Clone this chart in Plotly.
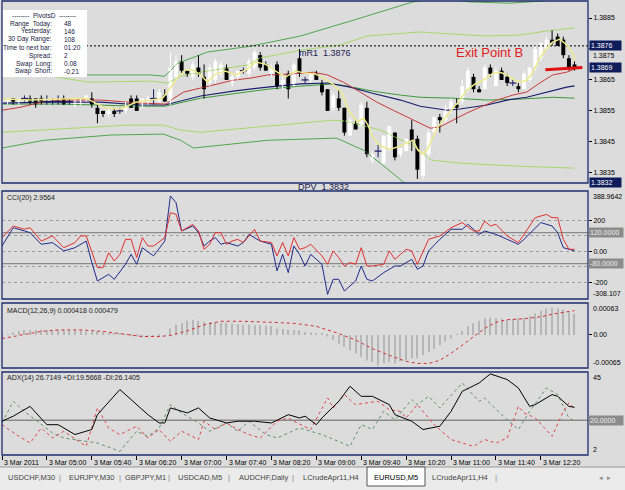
import plotly.graph_objects as go

# ======================= DATA =======================
bar_index = list(range(103))

opens = [
    1.3857, 1.3858, 1.3859, 1.3858, 1.3859, 1.3859, 1.3859, 1.3859, 1.3858, 1.3858,
    1.3858, 1.3859, 1.3858, 1.3857, 1.3857, 1.3858, 1.3859, 1.3856, 1.3855, 1.3854,
    1.3855, 1.3855, 1.3855, 1.3859, 1.3859, 1.3856, 1.3858, 1.3859, 1.3858, 1.3860,
    1.3858, 1.3866, 1.3871, 1.3868, 1.3866, 1.3869, 1.3866, 1.3864, 1.3865, 1.3867,
    1.3869, 1.3864, 1.3866, 1.3868, 1.3867, 1.3869, 1.3873, 1.3870, 1.3867, 1.3870,
    1.3863, 1.3867, 1.3863, 1.3872, 1.3865, 1.3865, 1.3867, 1.3864, 1.3862, 1.3856,
    1.3859, 1.3856, 1.3847, 1.3851, 1.3850, 1.3856, 1.3839, 1.3842, 1.3838, 1.3843,
    1.3848, 1.3841, 1.3842, 1.3849, 1.3846, 1.3834, 1.3841, 1.3848, 1.3853, 1.3852,
    1.3855, 1.3857, 1.3858, 1.3862, 1.3866, 1.3862, 1.3862, 1.3869, 1.3863, 1.3868,
    1.3866, 1.3864, 1.3863, 1.3862, 1.3865, 1.3869, 1.3872, 1.3875, 1.3878, 1.3879,
    1.3878, 1.3872, 1.3870,
]
highs = [
    1.3859, 1.3859, 1.3859, 1.3859, 1.3860, 1.3860, 1.3859, 1.3860, 1.3860, 1.3859,
    1.3860, 1.3860, 1.3859, 1.3859, 1.3859, 1.3860, 1.3861, 1.3857, 1.3855, 1.3856,
    1.3856, 1.3856, 1.3858, 1.3860, 1.3860, 1.3859, 1.3860, 1.3862, 1.3862, 1.3862,
    1.3874, 1.3873, 1.3873, 1.3868, 1.3871, 1.3873, 1.3870, 1.3870, 1.3872, 1.3871,
    1.3870, 1.3867, 1.3868, 1.3869, 1.3872, 1.3875, 1.3874, 1.3871, 1.3870, 1.3871,
    1.3867, 1.3868, 1.3871, 1.3875, 1.3866, 1.3867, 1.3868, 1.3865, 1.3862, 1.3861,
    1.3862, 1.3856, 1.3853, 1.3852, 1.3858, 1.3858, 1.3842, 1.3844, 1.3847, 1.3850,
    1.3848, 1.3843, 1.3846, 1.3852, 1.3847, 1.3842, 1.3849, 1.3853, 1.3854, 1.3857,
    1.3859, 1.3859, 1.3865, 1.3869, 1.3867, 1.3863, 1.3870, 1.3870, 1.3869, 1.3869,
    1.3867, 1.3865, 1.3864, 1.3868, 1.3869, 1.3876, 1.3877, 1.3879, 1.3881, 1.3880,
    1.3879, 1.3873, 1.3871,
]
lows = [
    1.3856, 1.3857, 1.3857, 1.3857, 1.3858, 1.3857, 1.3856, 1.3857, 1.3857, 1.3857,
    1.3857, 1.3857, 1.3857, 1.3856, 1.3857, 1.3858, 1.3856, 1.3851, 1.3853, 1.3853,
    1.3853, 1.3854, 1.3854, 1.3856, 1.3855, 1.3856, 1.3857, 1.3857, 1.3858, 1.3858,
    1.3857, 1.3865, 1.3867, 1.3866, 1.3865, 1.3866, 1.3859, 1.3863, 1.3864, 1.3866,
    1.3865, 1.3863, 1.3865, 1.3867, 1.3866, 1.3868, 1.3868, 1.3868, 1.3866, 1.3862,
    1.3862, 1.3859, 1.3863, 1.3866, 1.3864, 1.3864, 1.3865, 1.3860, 1.3855, 1.3855,
    1.3855, 1.3847, 1.3847, 1.3849, 1.3850, 1.3840, 1.3838, 1.3840, 1.3838, 1.3842,
    1.3839, 1.3840, 1.3842, 1.3842, 1.3833, 1.3833, 1.3840, 1.3848, 1.3848, 1.3851,
    1.3854, 1.3851, 1.3857, 1.3861, 1.3861, 1.3861, 1.3862, 1.3866, 1.3863, 1.3865,
    1.3863, 1.3863, 1.3861, 1.3862, 1.3864, 1.3868, 1.3871, 1.3875, 1.3876, 1.3876,
    1.3872, 1.3868, 1.3868,
]
closes = [
    1.3858, 1.3859, 1.3858, 1.3859, 1.3859, 1.3858, 1.3857, 1.3858, 1.3858, 1.3858,
    1.3858, 1.3857, 1.3858, 1.3858, 1.3859, 1.3860, 1.3857, 1.3854, 1.3854, 1.3855,
    1.3854, 1.3855, 1.3857, 1.3856, 1.3855, 1.3859, 1.3859, 1.3859, 1.3861, 1.3858,
    1.3869, 1.3871, 1.3868, 1.3867, 1.3870, 1.3867, 1.3862, 1.3869, 1.3871, 1.3870,
    1.3865, 1.3866, 1.3868, 1.3868, 1.3871, 1.3874, 1.3869, 1.3868, 1.3869, 1.3863,
    1.3865, 1.3862, 1.3870, 1.3867, 1.3865, 1.3867, 1.3865, 1.3861, 1.3855, 1.3860,
    1.3856, 1.3848, 1.3852, 1.3849, 1.3857, 1.3841, 1.3841, 1.3842, 1.3847, 1.3850,
    1.3840, 1.3843, 1.3846, 1.3845, 1.3836, 1.3841, 1.3848, 1.3853, 1.3852, 1.3856,
    1.3858, 1.3856, 1.3863, 1.3868, 1.3862, 1.3861, 1.3869, 1.3867, 1.3868, 1.3865,
    1.3864, 1.3864, 1.3862, 1.3867, 1.3869, 1.3875, 1.3877, 1.3878, 1.3877, 1.3876,
    1.3873, 1.3869, 1.3869,
]

# moving averages / bands on the price chart (bar index, price)
ma_fast_x = [0.2, 5.2, 10.5, 15, 16.7, 18.5, 21.2, 23.8, 26.5, 28.6, 30, 31.3, 32.7, 34.1, 35.4,
             36.6, 38, 39.8, 41.6, 43.4, 45.2, 46.9, 48.7, 50.5, 52.3, 54, 55.8, 57.1, 59, 60.6,
             61.7, 63.3, 64.4, 65.2, 66.1, 67.4, 69.2, 70.9, 72.4, 73.2, 74.1, 75, 75.9, 77.5, 79.3,
             81.1, 82.8, 84.3, 85.7, 87.5, 88.7, 90, 91.4, 92.3, 93.5, 94.6, 95.8, 97.1, 98.1, 99.4,
             100.6, 101.7, 102]
ma_fast_y = [1.38588, 1.38585, 1.38588, 1.38591, 1.38575, 1.38559, 1.38556, 1.38578, 1.38585, 1.38591,
             1.38624, 1.38659, 1.38682, 1.38682, 1.38666, 1.38643, 1.38669, 1.38679, 1.38666, 1.38682,
             1.38708, 1.38701, 1.38679, 1.38659, 1.38679, 1.38672, 1.38669, 1.38659, 1.38636, 1.38607,
             1.38552, 1.38514, 1.38527, 1.38504, 1.38465, 1.38436, 1.38426, 1.38436, 1.38449, 1.38455,
             1.38423, 1.38410, 1.38430, 1.38494, 1.38536, 1.38575, 1.38617, 1.38637, 1.38649, 1.38672,
             1.38675, 1.38666, 1.38649, 1.38643, 1.38649, 1.38675, 1.38721, 1.38753, 1.38772, 1.38782,
             1.38763, 1.38737, 1.38712]
ma_red_x = [0, 3.4, 7, 10.5, 17.6, 24.7, 29.2, 30.6, 32.4, 35.4, 37.7, 41.2, 44.3, 47.3, 51.4,
            55.5, 58, 60.8, 63.8, 66.8, 69.7, 72.2, 74.5, 76.3, 78, 80.4, 82.8, 85.2, 88.2, 91,
            93.5, 95.8, 98.1, 100.6, 102]
ma_red_y = [1.38552, 1.38562, 1.38578, 1.38585, 1.38585, 1.38575, 1.38572, 1.38591, 1.38611, 1.38624,
            1.38633, 1.38649, 1.38656, 1.38666, 1.38669, 1.38675, 1.38666, 1.38643, 1.38611, 1.38578,
            1.38552, 1.38530, 1.38510, 1.38494, 1.38498, 1.38520, 1.38543, 1.38562, 1.38585, 1.38601,
            1.38611, 1.38640, 1.38666, 1.38675, 1.38685]
ma_blue_x = [0, 8.7, 17.6, 24.7, 29, 35.4, 41.2, 47.3, 53.2, 58, 62, 66, 71, 74.5, 79.3, 81.6,
             86.4, 90, 93.5, 97, 100.6, 102]
ma_blue_y = [1.38575, 1.38578, 1.38578, 1.38569, 1.38569, 1.38598, 1.38614, 1.38627, 1.38637, 1.38640,
             1.38627, 1.38607, 1.38585, 1.38565, 1.38552, 1.38556, 1.38569, 1.38585, 1.38594, 1.38611,
             1.38627, 1.38631]
ma_green_x = [0, 10.5, 24.7, 29, 35.4, 41.2, 47.3, 53.2, 59, 61.5, 66, 71, 74.5, 80.4, 86.4, 92.3, 98.1, 102]
ma_green_y = [1.38572, 1.38572, 1.38565, 1.38565, 1.38591, 1.38604, 1.38620, 1.38630, 1.38637, 1.38630,
              1.38614, 1.38601, 1.38594, 1.38591, 1.38585, 1.38588, 1.38594, 1.38591]
band_up_outer_x = [0, 14, 26.5, 29, 31.3, 36.6, 44.3, 53.2, 62.6, 73.2, 78, 83.4, 90.5, 96.4, 102]
band_up_outer_y = [1.38714, 1.38666, 1.38666, 1.38662, 1.38704, 1.38740, 1.38759, 1.38792, 1.38843,
                   1.38902, 1.38914, 1.38902, 1.38898, 1.38905, 1.38918]
band_up_inner_x = [0, 15.3, 26.5, 29.5, 31.8, 36.6, 43.7, 46, 53.2, 60.3, 65, 74.5, 80.4, 86.4, 92.3, 97, 102]
band_up_inner_y = [1.38688, 1.38643, 1.38646, 1.38640, 1.38662, 1.38679, 1.38698, 1.38721, 1.38746,
                   1.38763, 1.38792, 1.38805, 1.38798, 1.38792, 1.38795, 1.38808, 1.38818]
band_lo_inner_x = [0, 11.7, 22.4, 28.8, 31.8, 35.4, 47.3, 59, 61.2, 67.4, 73.2, 76.5, 81.7, 92.3, 102]
band_lo_inner_y = [1.38481, 1.38494, 1.38504, 1.38504, 1.38488, 1.38481, 1.38501, 1.38520, 1.38517,
                   1.38488, 1.38439, 1.38391, 1.38381, 1.38371, 1.38365]
band_lo_outer_x = [0, 7.5, 19.4, 28.8, 31.8, 34.1, 38.9, 47.3, 59.6, 64.4, 67.4, 71.5, 74.5, 83.4, 102]
band_lo_outer_y = [1.38430, 1.38455, 1.38472, 1.38475, 1.38455, 1.38430, 1.38439, 1.38455, 1.38462,
                   1.38423, 1.38381, 1.38320, 1.38287, 1.38262, 1.38262]

mr1_level = 1.3876
bid_price = 1.3869
dpv_level = 1.3832
exit_x = [96.8, 103.4]
exit_y = [1.38683, 1.38690]

price_ticks = [1.3835, 1.3845, 1.3855, 1.3865, 1.3875, 1.3885]
price_tick_under_box = 1.3875  # partly hidden under the 1.3876 box, drawn just below it
price_range = [1.38317, 1.38905]

# CCI
cci_red_x = [0, 2, 4, 5, 7, 9, 11, 13, 14, 15, 17, 18, 19, 20, 21, 22, 23, 24, 25, 26, 27, 29, 30, 31, 32,
             34, 35, 36, 37, 38, 39, 40, 41, 42, 43, 45, 46, 48, 49, 50, 51, 52, 53, 54, 55, 57, 58, 59,
             60, 61, 62, 63, 64, 65, 66, 68, 69, 70, 71, 72, 73, 74, 76, 77, 78, 80, 82, 84, 85, 86, 87,
             88, 90, 92, 93, 95, 97, 98, 99, 100, 101, 102]
cci_red_y = [88, 163, 142, 152, 66, 99, 23, 56, 99, 99, -106, -106, -9, -63, -20, 77, 77, -41, 88, 34,
             34, 88, 249, 239, 131, 174, 131, 13, 45, 120, 120, 45, 66, 77, 56, 142, 66, 56, -30, 56,
             -30, 88, 13, 23, 45, -30, -84, 2, -41, -95, -73, -84, 23, -95, -95, -84, 2, -52, -20, 13,
             2, -84, 77, 88, 99, 152, 185, 131, 131, 195, 163, 174, 99, 56, 109, 217, 238, 217, 217, 77,
             13, 13]
cci_blue_x = [0, 2, 4, 5, 7, 9, 11, 13, 15, 16, 17, 19, 20, 22, 23, 24, 25, 27, 29, 30, 31, 32, 34, 35,
              36, 37, 38, 39, 40, 42, 43, 44, 46, 48, 49, 50, 51, 52, 53, 54, 55, 57, 58, 59, 60, 61,
              63, 64, 65, 66, 68, 69, 70, 71, 73, 74, 75, 76, 78, 80, 82, 83, 84, 85, 86, 88, 90, 92,
              93, 95, 96, 98, 99, 100, 101, 102]
cci_blue_y = [34, 152, 131, 120, 45, 56, 2, 23, 66, -73, -192, -149, -181, -84, -20, -84, 23, -30, 66,
              357, 314, 131, 163, 120, 34, 66, 88, 45, 56, 34, 56, 109, 66, 45, -127, -20, -138, 34,
              -20, -95, -20, -84, -278, -181, -181, -256, -192, -95, -181, -192, -138, -116, -95, -95,
              -52, -116, -95, 2, 77, 142, 142, 174, 142, 109, 131, 109, 77, 45, 77, 152, 185, 163, 120,
              23, 13, 3]
cci_range = [-308.107, 388.9642]
cci_levels = [120, -80]
cci_grid = [200, 100, 0, -100, -200]
cci_tick_text = ["200", "", "0.00", "", "-200"]

# MACD
macd_main = [
    -0.00003, 0.00001, 0.00005, 0.00008, 0.0001, 0.0001, 0.0001, 0.00011, 0.0001, 0.0001,
    0.0001, 0.0001, 0.00009, 0.00009, 0.00009, 0.00007, 0.00007, 0.00007, 0.00006, 0.00003,
    0.00002, 0.00002, 0.00001, -0.00002, -0.00003, -0.00005, -0.00005, -0.00004, -0.00003, 0.0,
    0.00013, 0.0002, 0.00023, 0.00028, 0.0003, 0.00028, 0.00026, 0.00025, 0.00025, 0.00024,
    0.00024, 0.00022, 0.00021, 0.0002, 0.0002, 0.00019, 0.00019, 0.00018, 0.00017, 0.00013,
    0.00012, 0.0001, 0.0001, 0.00009, 0.00006, 0.00005, 0.00004, 0.00003, -0.00003, -0.0001,
    -0.00017, -0.00023, -0.0003, -0.00036, -0.00043, -0.0005, -0.00053, -0.0006, -0.00056, -0.00053,
    -0.00056, -0.00052, -0.0005, -0.00046, -0.00046, -0.0004, -0.00034, -0.00027, -0.0002, -0.00013,
    -0.00007, 0.00001, 0.00008, 0.00017, 0.00023, 0.00028, 0.00033, 0.00034, 0.00033, 0.00032,
    0.0003, 0.00032, 0.00033, 0.00034, 0.00038, 0.00043, 0.00048, 0.00052, 0.00053, 0.00052,
    0.0005, 0.00045, 0.000418,
]
macd_sig_x = [0, 4, 7, 10, 14, 18, 22, 25, 28, 30, 33, 36, 39, 43, 48, 52, 56, 60, 63, 66, 69, 72, 74,
              76, 78, 80, 82, 84, 86, 88, 90, 93, 96, 99, 102]
macd_sig_y = [-0.00007, 0.00001, 0.00007, 0.0001, 0.0001, 0.00007, 0.00001, -0.00003, -0.00003, -0.00001,
              0.00008, 0.0002, 0.00027, 0.00027, 0.00025, 0.00023, 0.00017, 0.00003, -0.0001, -0.00027,
              -0.0004, -0.00052, -0.00056, -0.00056, -0.0005, -0.00036, -0.0002, -0.00003, 0.00013,
              0.00025, 0.0003, 0.00032, 0.00036, 0.00043, 0.000479]
macd_range = [-0.00065, 0.00063]

# ADX
adx_x = [0, 2, 5, 8, 10, 13, 16, 17, 21, 23, 26, 28, 29, 30, 33, 35, 37, 40, 42, 45, 48, 51, 53, 54,
         56, 57, 60, 62, 64, 66, 69, 70, 73, 75, 78, 80, 82, 85, 87, 90, 92, 94, 95, 98, 99, 101, 102]
adx_y = [19.5, 22.1, 27.2, 17.7, 17.7, 12.6, 15.2, 22.9, 35.9, 30.7, 22.9, 18.6, 18.6, 26.4, 23.8,
         26.4, 21.2, 18.6, 19.5, 19.5, 18.6, 22.9, 21.2, 22.1, 17.7, 21.2, 29.8, 37.6, 32.4, 32.4,
         28.1, 22.9, 19.5, 15.2, 16.9, 24.6, 35.0, 39.3, 44.0, 41.1, 36.7, 27.2, 28.1, 33.3, 32.4,
         27.2, 26.7]
pdi_x = [0, 2, 4, 7, 9, 11, 17, 21, 24, 26, 28, 30, 32, 35, 37, 40, 42, 44, 47, 49, 51, 53, 57, 62,
         64, 66, 68, 70, 73, 74, 76, 78, 82, 85, 86, 89, 92, 94, 97, 99, 101, 102]
pdi_y = [18.6, 29.8, 24.6, 17.7, 13.4, 10.8, 8.2, 3.9, 14.3, 11.7, 16.0, 28.1, 23.8, 18.6, 14.3, 18.6,
         14.3, 19.5, 12.6, 10.8, 13.4, 16.0, 12.6, 6.5, 17.7, 15.2, 24.6, 20.3, 30.7, 28.1, 32.4,
         26.4, 39.3, 29.8, 31.5, 22.9, 15.2, 24.6, 36.7, 33.3, 21.2, 19.57]
mdi_x = [0, 3, 5, 7, 9, 11, 15, 17, 19, 21, 24, 26, 28, 30, 32, 35, 36, 38, 40, 42, 44, 46, 49, 51,
         52, 55, 58, 59, 61, 63, 65, 67, 69, 71, 72, 74, 77, 80, 84, 86, 88, 90, 92, 93, 95, 98, 100,
         101, 102]
mdi_y = [17.7, 11.7, 8.2, 16.0, 10.8, 14.3, 6.5, 26.4, 16.0, 12.6, 16.9, 10.8, 15.2, 9.1, 14.3, 10.0,
         19.5, 15.2, 18.6, 15.2, 12.6, 10.8, 19.5, 21.2, 19.5, 15.2, 31.6, 26.4, 33.3, 28.1, 29.0,
         29.8, 25.5, 24.6, 21.2, 28.1, 17.7, 10.0, 6.5, 10.0, 8.2, 10.8, 27.2, 23.8, 21.2, 11.7, 24.6,
         29.0, 26.14]
adx_range = [2, 45]
adx_level = 20

time_tick_idx = [0, 8, 16, 24, 32, 40, 48, 56, 64, 72, 80, 88, 96]
time_labels = ["3 Mar 2011", "3 Mar 05:00", "3 Mar 05:40", "3 Mar 06:20", "3 Mar 07:00", "3 Mar 07:40",
               "3 Mar 08:20", "3 Mar 09:00", "3 Mar 09:40", "3 Mar 10:20", "3 Mar 11:00", "3 Mar 11:40",
               "3 Mar 12:20"]

info_labels = ["Range  Today:", "Yesterday:", "30 Day Range:", "Time to next bar:", "Spread:",
               "Swap  Long:", "Swap  Short:"]
info_values = ["48", "146", "108", "01:20", "2", "0.08", "-0.21"]

tab_names = ["USDCHF,M30", "EURJPY,M30", "GBPJPY,M1", "USDCAD,M5", "AUDCHF,Daily",
             "LCrudeApr11,H4", "EURUSD,M5", "LCrudeApr11,H4"]
active_tab = "EURUSD,M5"

# ======================= STYLE / LAYOUT =======================
W, H = 625, 490
BG = "#dcdcdc"
FRAME = "#1c2c6c"
NAVY = "#0f1c5c"
FONT = "Liberation Sans"
XR = [0, 104.4]


def px_x(p):
    return p / W


def px_y(p):
    return 1 - p / H


XD = [px_x(2), px_x(588)]

fig = go.Figure()

# ---- candles ----
bull_wx, bull_wy, bear_wx, bear_wy, doji_wx, doji_wy = [], [], [], [], [], []
body_base, body_h, body_col = [], [], []
doji_x, doji_y = [], []
for i, o, h, l, c in zip(bar_index, opens, highs, lows, closes):
    if c > o:
        bull_wx += [i, i, None]
        bull_wy += [l, h, None]
        body_col.append("#ffffff")
    elif c < o:
        bear_wx += [i, i, None]
        bear_wy += [l, h, None]
        body_col.append("#000000")
    else:
        doji_wx += [i, i, None]
        doji_wy += [l, h, None]
        doji_x.append(i)
        doji_y.append(o)
        body_col.append("#000000")
    body_base.append(min(o, c))
    body_h.append(abs(c - o))

# bands & MAs (behind candles)
line_specs = [
    (band_up_outer_x, band_up_outer_y, "#4ea64e", 1),
    (band_lo_outer_x, band_lo_outer_y, "#4ea64e", 1),
    (band_up_inner_x, band_up_inner_y, "#a6d86a", 1),
    (band_lo_inner_x, band_lo_inner_y, "#a6d86a", 1),
    (ma_green_x, ma_green_y, "#3b9b3b", 1),
    (ma_blue_x, ma_blue_y, "#1a1f6e", 1.2),
    (ma_red_x, ma_red_y, "#c83a3a", 1),
]
for xs, ys, col, w in line_specs:
    fig.add_trace(go.Scatter(x=xs, y=ys, mode="lines", line=dict(color=col, width=w),
                             xaxis="x", yaxis="y", hoverinfo="skip"))

# dashed pivot line
fig.add_trace(go.Scatter(x=[XR[0], XR[1]], y=[mr1_level, mr1_level], mode="lines",
                         line=dict(color="#000000", width=1, dash="2px,2px"), xaxis="x", yaxis="y"))

fig.add_trace(go.Scatter(x=bull_wx, y=bull_wy, mode="lines", line=dict(color="#ffffff", width=1),
                         xaxis="x", yaxis="y", hoverinfo="skip"))
fig.add_trace(go.Scatter(x=bear_wx, y=bear_wy, mode="lines", line=dict(color="#000000", width=1),
                         xaxis="x", yaxis="y", hoverinfo="skip"))
fig.add_trace(go.Scatter(x=doji_wx, y=doji_wy, mode="lines", line=dict(color="#1a1a60", width=1),
                         xaxis="x", yaxis="y", hoverinfo="skip"))
fig.add_trace(go.Bar(x=bar_index, y=body_h, base=body_base, width=0.7,
                     marker=dict(color=body_col, line=dict(width=0)), xaxis="x", yaxis="y"))
fig.add_trace(go.Scatter(x=doji_x, y=doji_y, mode="markers",
                         marker=dict(symbol="line-ew", size=5, line=dict(color="#1a1a60", width=1.2)),
                         xaxis="x", yaxis="y"))

# fast MA on top
fig.add_trace(go.Scatter(x=ma_fast_x, y=ma_fast_y, mode="lines", line=dict(color="#eeea8c", width=1.5),
                         xaxis="x", yaxis="y"))
# exit line
fig.add_trace(go.Scatter(x=exit_x, y=exit_y, mode="lines", line=dict(color="#e01010", width=3),
                         xaxis="x", yaxis="y"))

# ---- CCI ----
fig.add_trace(go.Scatter(x=cci_blue_x, y=cci_blue_y, mode="lines", line=dict(color="#1e2a8a", width=1),
                         xaxis="x2", yaxis="y2"))
fig.add_trace(go.Scatter(x=cci_red_x, y=cci_red_y, mode="lines", line=dict(color="#e03030", width=1),
                         xaxis="x2", yaxis="y2"))

# ---- MACD ----
fig.add_trace(go.Bar(x=bar_index, y=macd_main, width=0.2, marker=dict(color="#b6b6b6", line=dict(width=0)),
                     xaxis="x3", yaxis="y3"))
fig.add_trace(go.Scatter(x=macd_sig_x, y=macd_sig_y, mode="lines",
                         line=dict(color="#d03030", width=1, dash="dot"), xaxis="x3", yaxis="y3"))

# ---- ADX ----
fig.add_trace(go.Scatter(x=pdi_x, y=pdi_y, mode="lines", line=dict(color="#5f8f6f", width=1, dash="dot"),
                         xaxis="x4", yaxis="y4"))
fig.add_trace(go.Scatter(x=mdi_x, y=mdi_y, mode="lines", line=dict(color="#e04444", width=1, dash="dot"),
                         xaxis="x4", yaxis="y4"))
fig.add_trace(go.Scatter(x=adx_x, y=adx_y, mode="lines", line=dict(color="#000000", width=1),
                         xaxis="x4", yaxis="y4"))

# ---- axes ----
xcommon = dict(range=XR, domain=XD, showgrid=False, zeroline=False, showline=False,
               showticklabels=False, ticks="", fixedrange=True)
ycommon = dict(side="right", showgrid=False, zeroline=False, showline=False, fixedrange=True,
               ticks="outside", ticklen=3, tickcolor="#000000",
               tickfont=dict(size=7, color="#000000", family=FONT))

fig.update_layout(
    xaxis=dict(xcommon, anchor="y"),
    xaxis2=dict(xcommon, anchor="y2", matches="x"),
    xaxis3=dict(xcommon, anchor="y3", matches="x"),
    xaxis4=dict(xcommon, anchor="y4", matches="x", ticks="outside", ticklen=4, tickcolor="#000000",
                tickvals=time_tick_idx),
    yaxis=dict(ycommon, anchor="x", domain=[px_y(183), px_y(1)], range=price_range,
               tickvals=price_ticks,
               ticktext=["" if v == price_tick_under_box else f"{v:.4f}" for v in price_ticks]),
    yaxis2=dict(ycommon, anchor="x2", domain=[px_y(299), px_y(191)], range=cci_range,
                tickvals=cci_grid, ticktext=cci_tick_text,
                showgrid=True, gridcolor="#9c9c9c", griddash="dot", gridwidth=1),
    yaxis3=dict(ycommon, anchor="x3", domain=[px_y(368), px_y(303)], range=macd_range,
                tickvals=[0], ticktext=["0.00"]),
    yaxis4=dict(ycommon, anchor="x4", domain=[px_y(455), px_y(372)], range=adx_range,
                tickvals=[], ticks=""),
)

# ---- shapes ----
shapes = []
for lv in cci_levels:
    shapes.append(dict(type="line", xref="x2 domain", x0=0, x1=1, yref="y2", y0=lv, y1=lv,
                       line=dict(color="#8a8a8a", width=1.3), layer="below"))
shapes.append(dict(type="line", xref="x4 domain", x0=0, x1=1, yref="y4", y0=adx_level, y1=adx_level,
                   line=dict(color="#8a8a8a", width=1.3), layer="below"))
# info box
shapes.append(dict(type="rect", xref="paper", yref="paper", x0=px_x(2), x1=px_x(87),
                   y0=px_y(77), y1=px_y(10), fillcolor="#ffffff", line=dict(width=0), layer="above"))
# pane frames
for xa, ya in [("x", "y"), ("x2", "y2"), ("x3", "y3"), ("x4", "y4")]:
    shapes.append(dict(type="rect", xref=f"{xa} domain", yref=f"{ya} domain", x0=0, x1=1, y0=0, y1=1,
                       line=dict(color=FRAME, width=1.3), fillcolor="rgba(0,0,0,0)", layer="above"))
# tab bar
shapes.append(dict(type="rect", xref="paper", yref="paper", x0=0, x1=1, y0=0, y1=px_y(467),
                   fillcolor="#ebebeb", line=dict(width=0), layer="above"))
shapes.append(dict(type="line", xref="paper", yref="paper", x0=0, x1=1, y0=px_y(467), y1=px_y(467),
                   line=dict(color="#9a9a9a", width=1), layer="above"))
shapes.append(dict(type="rect", xref="paper", yref="paper", x0=px_x(367), x1=px_x(425),
                   y0=px_y(486), y1=px_y(467), fillcolor="#ffffff", line=dict(color="#555555", width=1),
                   layer="above"))

# ---- annotations ----
ann = []


def label(text, x, y, xref="paper", yref="paper", xanchor="left", yanchor="middle", size=7,
          color="#000000", bg=None, **kw):
    d = dict(text=text, x=x, y=y, xref=xref, yref=yref, xanchor=xanchor, yanchor=yanchor,
             showarrow=False, font=dict(size=size, color=color, family=FONT))
    if bg:
        d.update(bgcolor=bg, borderpad=1)
    d.update(kw)
    ann.append(d)


# price label half-hidden under the navy box in the original: drawn just below the box
label(f"{price_tick_under_box:.4f}", px_x(591), price_tick_under_box, yref="y", yanchor="top",
      yshift=-1)

# navy price boxes
for v in [mr1_level, bid_price, dpv_level]:
    label(f"{v:.4f}", px_x(589), v, yref="y", bg=NAVY, color="#ffffff", width=29, align="left")

# CCI labels
label("388.9642", px_x(591), cci_range[1], yref="y2", yanchor="top")
label("-308.107", px_x(591), cci_range[0], yref="y2", yanchor="bottom")
for lv in cci_levels:
    label(f"{lv:.4f}", px_x(588), lv, yref="y2", bg="#8c8c8c", color="#f0f0f0", width=32, align="left")
# MACD labels
label("0.00063", px_x(591), macd_range[1], yref="y3", yanchor="top")
label("-0.00065", px_x(591), macd_range[0], yref="y3", yanchor="bottom")
# ADX labels
label("45", px_x(591), adx_range[1], yref="y4", yanchor="top")
label("2", px_x(591), adx_range[0], yref="y4", yanchor="bottom")
label(f"{adx_level:.4f}", px_x(588), adx_level, yref="y4", bg="#8c8c8c", color="#f0f0f0", width=32,
      align="left")

# pane titles
label("CCI(20) 2.9564", px_x(5), px_y(198), color="#202020")
label("MACD(12,26,9) 0.000418 0.000479", px_x(5), px_y(311), color="#202020")
label("ADX(14) 26.7149 +DI:19.5668 -DI:26.1405", px_x(5), px_y(378), color="#202020")

# chart texts
label("mR1  1.3876", 52.6, mr1_level, xref="x", yref="y", yanchor="top", size=9, color="#1a1a50")
label("DPV  1.3832", px_x(296), px_y(187), size=9, color="#1a1a50")
label("Exit Point B", 86.8, 1.38740, xref="x", yref="y", xanchor="center", size=13, color="#e02020")

# info box
label("--------  PivotsD  --------", px_x(44), px_y(15), xanchor="center", size=6.5, color="#202040")
for k, (lab, val) in enumerate(zip(info_labels, info_values)):
    yy = px_y(23.5 + 8 * k)
    label(lab, px_x(54), yy, xanchor="right", size=6.5, color="#202040")
    label(val, px_x(62), yy, xanchor="left", size=6.5, color="#202040")

# time labels
for t, txt in zip(time_tick_idx, time_labels):
    label(txt, t, px_y(462), xref="x4", xanchor="left", size=7, color="#000000")

# tabs
tab_centers = [31, 91, 145, 200, 263, 331, 396, 460]
for name, cx in zip(tab_names, tab_centers):
    label(name, px_x(cx), px_y(477), xanchor="center", size=7.5,
          color="#000000" if name == active_tab else "#444444")
for sx in [60, 120, 169, 229, 293, 496]:
    label("|", px_x(sx), px_y(477), xanchor="center", size=8, color="#888888")
label("◂  ▸", px_x(605), px_y(477), xanchor="center", size=7, color="#888888")

fig.update_layout(
    width=W, height=H, margin=dict(l=0, r=0, t=0, b=0),
    paper_bgcolor=BG, plot_bgcolor=BG, showlegend=False, barmode="overlay",
    font=dict(family=FONT, size=7, color="#000000"),
    shapes=shapes, annotations=ann, hovermode=False,
)

fig.write_html("out.html")
